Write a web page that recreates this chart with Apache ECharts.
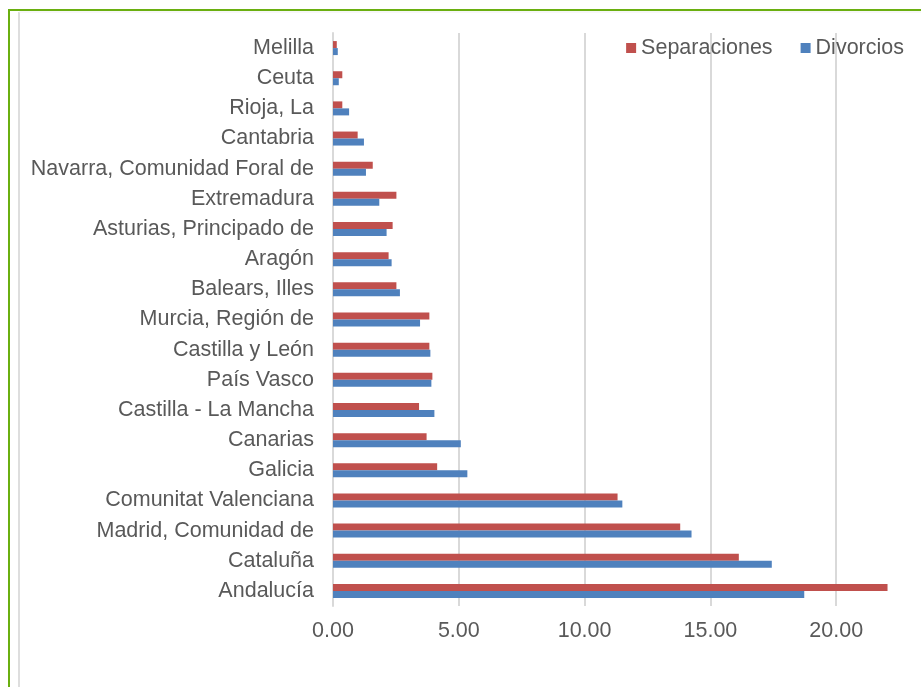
<!DOCTYPE html>
<html>
<head>
<meta charset="utf-8">
<script src="https://cdn.jsdelivr.net/npm/echarts@6/dist/echarts.min.js"></script>
<style>
  html, body { margin: 0; padding: 0; background: #fff; }
  #chart { width: 921px; height: 687px; }
</style>
</head>
<body>
<div id="chart"></div>
<script>
// categorias de abajo hacia arriba
var comunidades = [
  'Andalucía', 'Cataluña', 'Madrid, Comunidad de', 'Comunitat Valenciana',
  'Galicia', 'Canarias', 'Castilla - La Mancha', 'País Vasco',
  'Castilla y León', 'Murcia, Región de', 'Balears, Illes', 'Aragón',
  'Asturias, Principado de', 'Extremadura', 'Navarra, Comunidad Foral de',
  'Cantabria', 'Rioja, La', 'Ceuta', 'Melilla'
]
var separaciones = [22.04, 16.13, 13.80, 11.31, 4.14, 3.72, 3.42, 3.95, 3.83, 3.83, 2.52, 2.21, 2.37, 2.52, 1.58, 0.98, 0.37, 0.37, 0.15]
var divorcios = [18.73, 17.44, 14.25, 11.50, 5.34, 5.08, 4.03, 3.91, 3.87, 3.46, 2.66, 2.33, 2.13, 1.84, 1.31, 1.23, 0.64, 0.23, 0.19]
var ticksX = [0, 5, 10, 15, 20, 25]

var font = 'Liberation Sans, Arial, sans-serif'
var chart = echarts.init(document.getElementById('chart'))

var option = {
  animation: false,
  backgroundColor: '#fff',
  graphic: [
    // marco verde y borde gris interior
    { type: 'line', shape: { x1: 8, y1: 10, x2: 921, y2: 10 }, style: { stroke: '#6aaf10', lineWidth: 2 } },
    { type: 'line', shape: { x1: 9, y1: 9, x2: 9, y2: 687 }, style: { stroke: '#6aaf10', lineWidth: 2 } },
    { type: 'line', shape: { x1: 19, y1: 12, x2: 19, y2: 687 }, style: { stroke: '#dedede', lineWidth: 2 } },
    { type: 'line', shape: { x1: 19, y1: 12, x2: 921, y2: 12 }, style: { stroke: '#efefef', lineWidth: 1 } }
  ],
  legend: {
    data: ['Separaciones', 'Divorcios'],
    right: 12,
    top: 32,
    itemWidth: 10,
    itemHeight: 10,
    itemGap: 28,
    icon: 'rect',
    textStyle: { fontFamily: font, fontSize: 21.5, color: '#595959' }
  },
  grid: {
    left: 333,
    right: -41,
    top: 33,
    bottom: 81,
    outerBoundsMode: 'none'
  },
  xAxis: {
    type: 'value',
    min: ticksX[0],
    max: ticksX[ticksX.length - 1],
    interval: 5,
    axisLine: { show: false },
    axisTick: { show: false },
    splitLine: { lineStyle: { color: '#d9d9d9', width: 2 } },
    axisLabel: {
      margin: 14,
      fontFamily: font,
      fontSize: 21.5,
      color: '#595959',
      formatter: function (v) { return v.toFixed(2) }
    }
  },
  yAxis: {
    type: 'category',
    data: comunidades,
    axisLine: { lineStyle: { color: '#d9d9d9', width: 2 } },
    axisTick: { show: false },
    axisLabel: {
      margin: 19,
      fontFamily: font,
      fontSize: 21.5,
      color: '#595959'
    }
  },
  series: [
    {
      name: 'Separaciones',
      type: 'bar',
      data: separaciones,
      barWidth: 7,
      barGap: '0%',
      itemStyle: { color: '#c0504d' }
    },
    {
      name: 'Divorcios',
      type: 'bar',
      data: divorcios,
      barWidth: 7,
      barGap: '0%',
      itemStyle: { color: '#4f81bd' }
    }
  ]
}

chart.setOption(option)
</script>
</body>
</html>
